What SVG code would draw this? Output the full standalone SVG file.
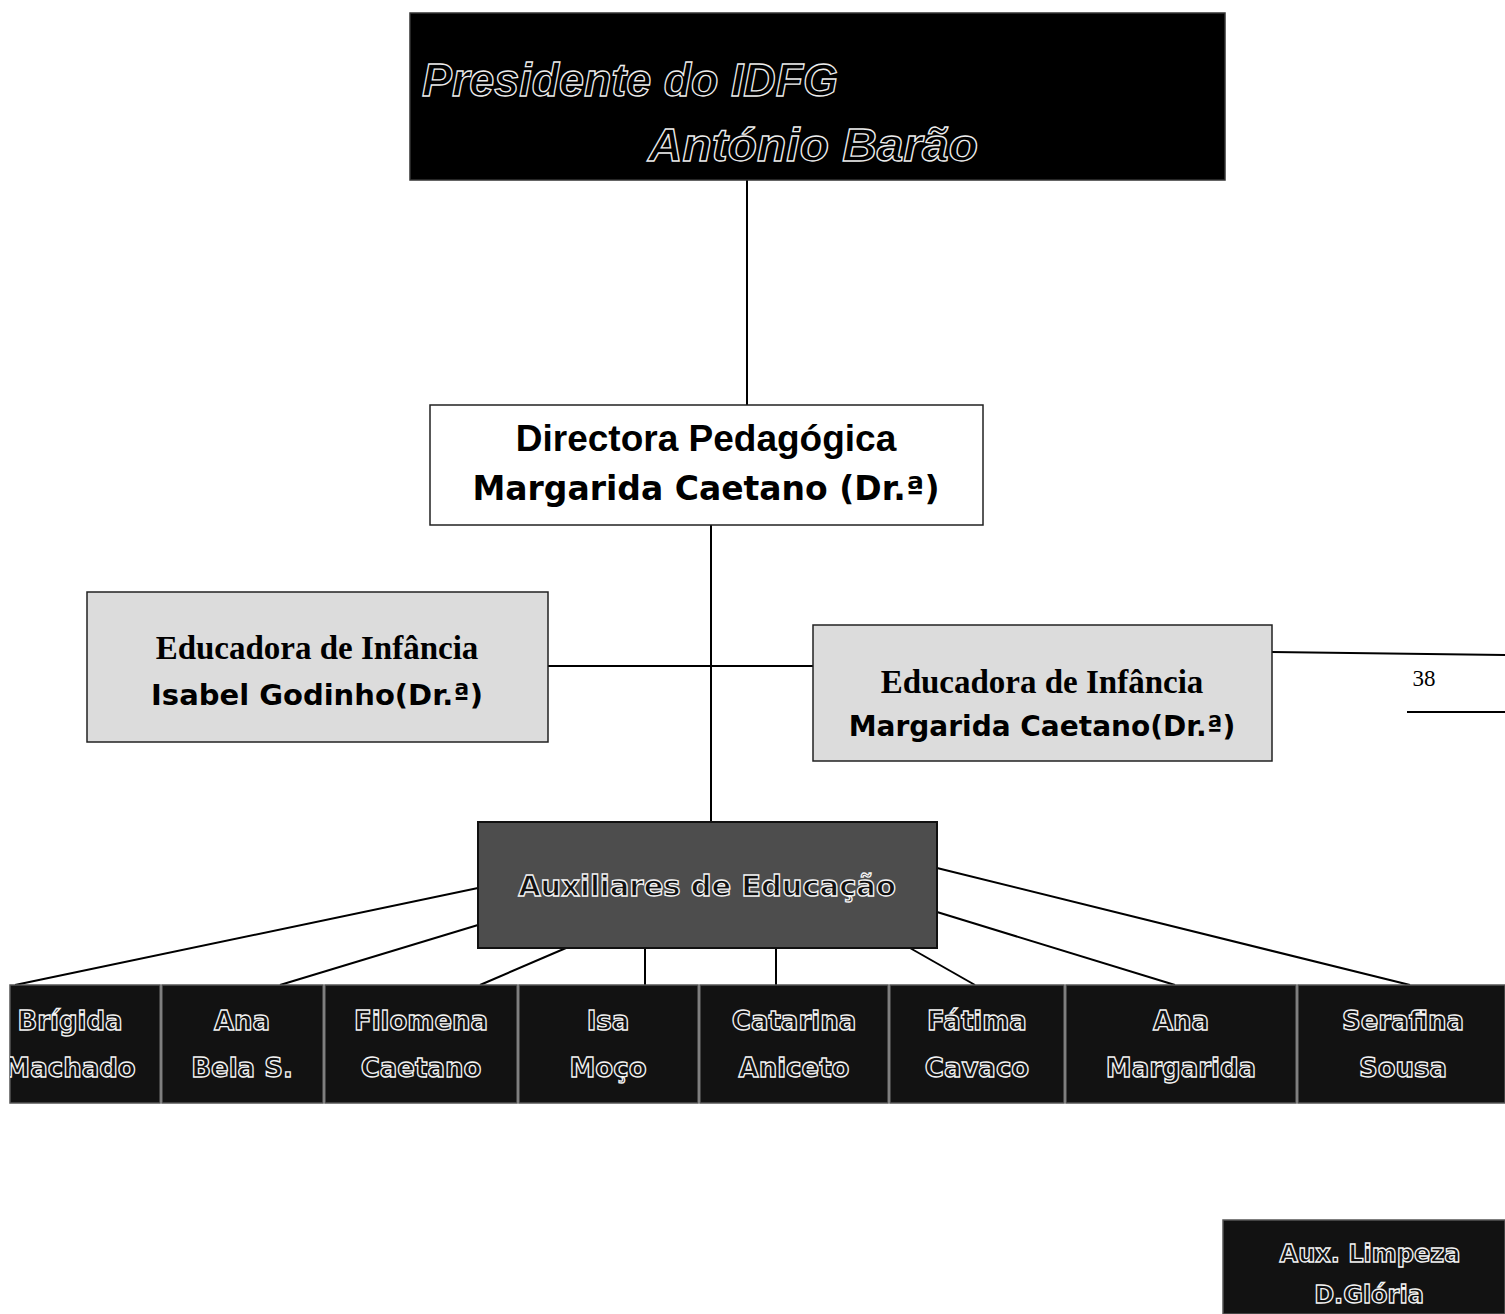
<svg xmlns="http://www.w3.org/2000/svg" width="1505" height="1314" viewBox="0 0 1505 1314">
<defs>
<style>
.conn{stroke:#000;stroke-width:2;fill:none}
.dark{fill:#121212;stroke:#555;stroke-width:1.5}
.mid{fill:#4d4d4d;stroke:#111;stroke-width:2}
.light{fill:#dcdcdc;stroke:#222;stroke-width:1.5}
.white{fill:#fff;stroke:#222;stroke-width:1.5}
.outl{font-family:"DejaVu Sans",sans-serif;font-weight:bold;fill:#111;stroke:#f4f4f4;stroke-width:1.3;text-anchor:middle}
.pres{font-family:"Liberation Sans",sans-serif;font-style:italic;font-weight:bold;fill:#000;stroke:#eee;stroke-width:1.3;font-size:46px}
.ser{font-family:"Liberation Serif",serif;font-weight:bold;font-size:33px;fill:#000;text-anchor:middle}
.comic{font-family:"DejaVu Sans",sans-serif;font-weight:bold;fill:#000;text-anchor:middle}
</style>
<clipPath id="c1"><rect x="10" y="985" width="150" height="118"/></clipPath>
</defs>
<rect width="1505" height="1314" fill="#fff"/>
<g id="connectors">
<line class="conn" x1="747" y1="180" x2="747" y2="405"/>
<line class="conn" x1="711" y1="525" x2="711" y2="822"/>
<line class="conn" x1="548" y1="666" x2="813" y2="666"/>
<line class="conn" x1="1272" y1="652" x2="1505" y2="655"/>
<line class="conn" x1="1407" y1="712" x2="1505" y2="712"/>
<line class="conn" x1="478" y1="888" x2="15" y2="985"/>
<line class="conn" x1="478" y1="925" x2="280" y2="985"/>
<line class="conn" x1="566" y1="948" x2="480" y2="985"/>
<line class="conn" x1="645" y1="948" x2="645" y2="985"/>
<line class="conn" x1="776" y1="948" x2="776" y2="985"/>
<line class="conn" x1="910" y1="948" x2="975" y2="985"/>
<line class="conn" x1="937" y1="912" x2="1175" y2="985"/>
<line class="conn" x1="937" y1="868" x2="1410" y2="985"/>
</g>
<g id="presidente">
<rect x="410" y="13" width="815" height="167" fill="#000" stroke="#333" stroke-width="1.5"/>
<text class="pres" x="422" y="96" textLength="416" lengthAdjust="spacingAndGlyphs">Presidente do IDFG</text>
<text class="pres" x="648" y="161" textLength="330" lengthAdjust="spacingAndGlyphs">António  Barão</text>
</g>
<g id="directora">
<rect class="white" x="430" y="405" width="553" height="120"/>
<text x="706" y="451" font-family="Liberation Sans, sans-serif" font-weight="bold" font-size="37" text-anchor="middle">Directora Pedagógica</text>
<text class="comic" x="706" y="500" font-size="33">Margarida Caetano (Dr.ª)</text>
</g>
<g id="educadora1">
<rect class="light" x="87" y="592" width="461" height="150"/>
<text class="ser" x="317" y="659">Educadora de Infância</text>
<text class="comic" x="317" y="705" font-size="29">Isabel Godinho(Dr.ª)</text>
</g>
<g id="educadora2">
<rect class="light" x="813" y="625" width="459" height="136"/>
<text class="ser" x="1042" y="693">Educadora de Infância</text>
<text class="comic" x="1042" y="736" font-size="28">Margarida Caetano(Dr.ª)</text>
</g>
<text x="1424" y="686" font-family="Liberation Serif, serif" font-size="23" text-anchor="middle">38</text>
<g id="auxiliares">
<rect class="mid" x="478" y="822" width="459" height="126"/>
<text class="outl" x="707" y="896" font-size="29">Auxiliares de Educação</text>
</g>
<g id="brigida">
<rect class="dark" x="10" y="985" width="150" height="118"/>
<g clip-path="url(#c1)"><text class="outl" x="70" y="1030" font-size="26">Brígida</text>
<text class="outl" x="70" y="1077" font-size="26">Machado</text></g>
</g>
<g id="anabela">
<rect class="dark" x="162" y="985" width="161" height="118"/>
<text class="outl" x="242" y="1030" font-size="26">Ana</text>
<text class="outl" x="242" y="1077" font-size="26">Bela S.</text>
</g>
<g id="filomena">
<rect class="dark" x="325" y="985" width="192" height="118"/>
<text class="outl" x="421" y="1030" font-size="26">Filomena</text>
<text class="outl" x="421" y="1077" font-size="26">Caetano</text>
</g>
<g id="isa">
<rect class="dark" x="519" y="985" width="179" height="118"/>
<text class="outl" x="608" y="1030" font-size="26">Isa</text>
<text class="outl" x="608" y="1077" font-size="26">Moço</text>
</g>
<g id="catarina">
<rect class="dark" x="700" y="985" width="188" height="118"/>
<text class="outl" x="794" y="1030" font-size="26">Catarina</text>
<text class="outl" x="794" y="1077" font-size="26">Aniceto</text>
</g>
<g id="fatima">
<rect class="dark" x="890" y="985" width="174" height="118"/>
<text class="outl" x="977" y="1030" font-size="26">Fátima</text>
<text class="outl" x="977" y="1077" font-size="26">Cavaco</text>
</g>
<g id="anamargarida">
<rect class="dark" x="1066" y="985" width="230" height="118"/>
<text class="outl" x="1181" y="1030" font-size="26">Ana</text>
<text class="outl" x="1181" y="1077" font-size="26">Margarida</text>
</g>
<g id="serafina">
<rect class="dark" x="1298" y="985" width="207" height="118"/>
<text class="outl" x="1403" y="1030" font-size="26">Serafina</text>
<text class="outl" x="1403" y="1077" font-size="26">Sousa</text>
</g>
<g id="limpeza">
<rect class="dark" x="1223" y="1220" width="282" height="94" fill="#1e1e1e"/>
<text class="outl" x="1370" y="1262" font-size="24">Aux. Limpeza</text>
<text class="outl" x="1369" y="1303" font-size="24">D.Glória</text>
</g>
</svg>
